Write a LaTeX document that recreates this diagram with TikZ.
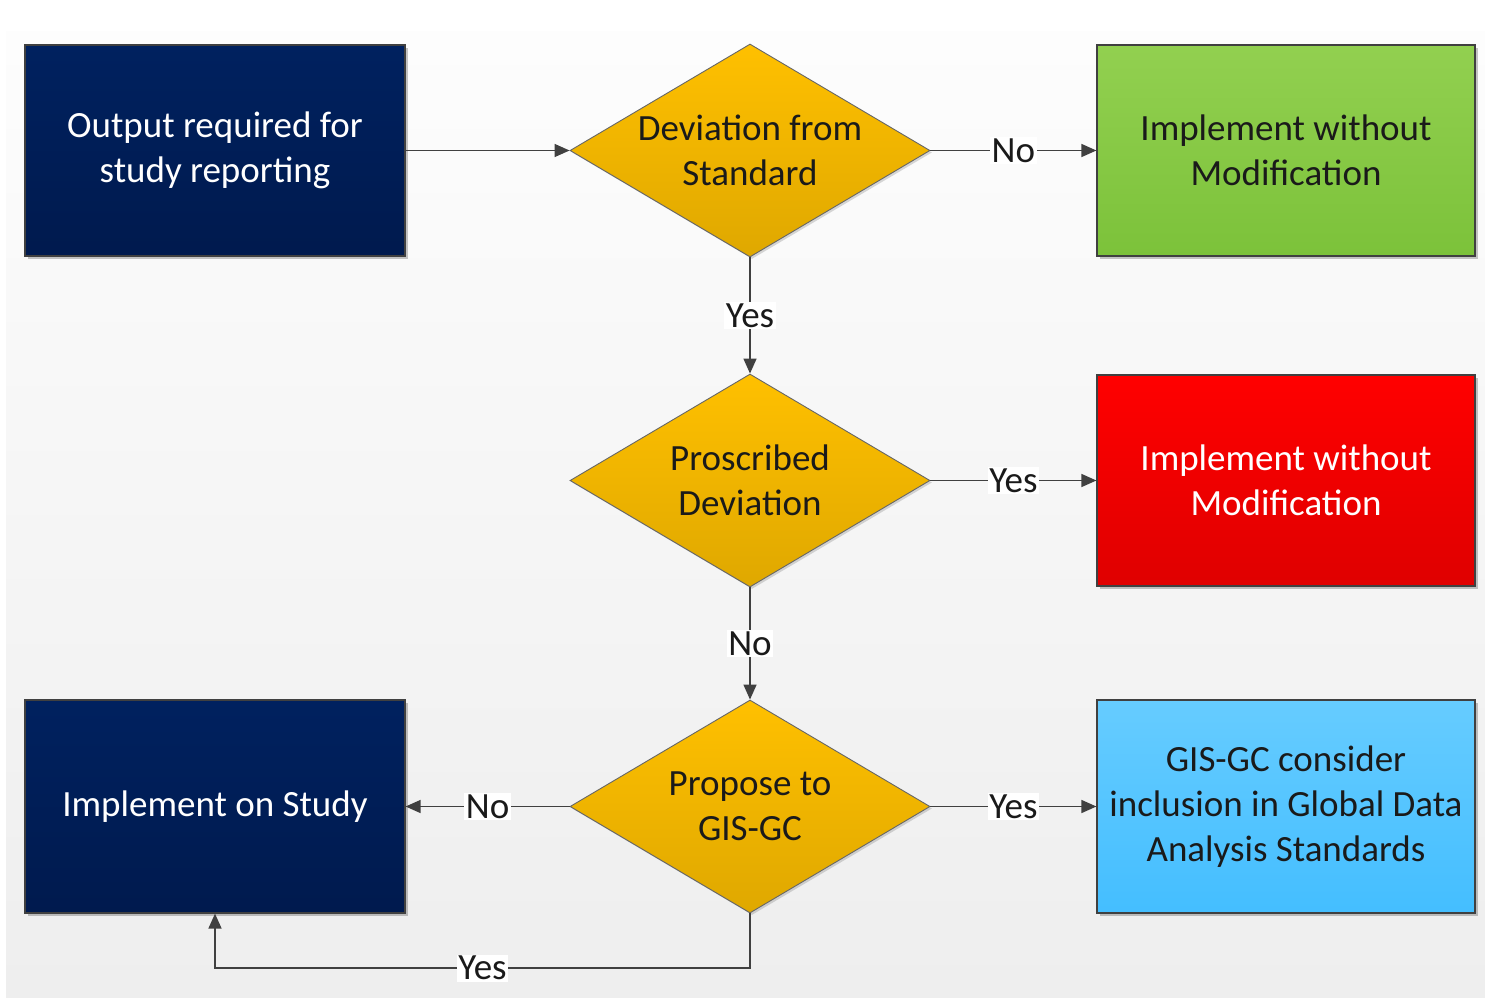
\documentclass[tikz,border=0pt]{standalone}
\usepackage{fontspec}
\setmainfont{Carlito}
\usetikzlibrary{shapes.geometric,arrows.meta,shadows,calc}
\definecolor{bgtop}{HTML}{FDFDFD}
\definecolor{bgbot}{HTML}{EEEEEE}
\definecolor{navytop}{HTML}{00215F}
\definecolor{navybot}{HTML}{001A4E}
\definecolor{greentop}{HTML}{92D050}
\definecolor{greenbot}{HTML}{7CC23A}
\definecolor{redtop}{HTML}{FF0000}
\definecolor{redbot}{HTML}{DF0000}
\definecolor{bluetop}{HTML}{66CCFF}
\definecolor{bluebot}{HTML}{44BEFF}
\definecolor{goldtop}{HTML}{FFC000}
\definecolor{goldbot}{HTML}{DFA800}
\definecolor{edgeclr}{HTML}{404040}
\definecolor{txtdark}{HTML}{1A1A1A}
\begin{document}
\begin{tikzpicture}[x=1pt,y=1pt,
  bigfont/.style={font=\fontsize{37}{45}\selectfont},
  box/.style={rectangle, draw=edgeclr, line width=1.2pt, minimum width=380pt,
    minimum height=211pt, inner sep=0pt, align=center, bigfont,
    drop shadow={shadow xshift=3pt,shadow yshift=-3pt,opacity=0.22,fill=black}},
  dec/.style={diamond, draw=edgeclr!80, line width=0.9pt, minimum width=360pt,
    minimum height=213pt, inner sep=0pt, top color=goldtop, bottom color=goldbot,
    drop shadow={shadow xshift=2pt,shadow yshift=-2pt,opacity=0.15,fill=black}},
  dectext/.style={align=center, bigfont, text=txtdark, inner sep=0pt},
  conn/.style={draw=edgeclr, line width=1.5pt, -{Triangle[length=15pt,width=13pt]}},
  lab/.style={fill=white, inner sep=1.5pt, bigfont, text=txtdark}
]
\useasboundingbox (0,0) rectangle (1485,-998);
\shade[top color=bgtop, bottom color=bgbot] (6,-32) rectangle (1485,-997);

% boxes
\node[box, top color=navytop, bottom color=navybot, text=white] (start) at (215,-150.5)
  {Output required for\\study reporting};
\node[box, top color=greentop, bottom color=greenbot, text=txtdark, minimum width=378pt] (green) at (1286,-150.5)
  {Implement without\\Modification};
\node[box, top color=redtop, bottom color=redbot, text=white, minimum width=378pt] (red) at (1286,-480.5)
  {Implement without\\Modification};
\node[box, top color=navytop, bottom color=navybot, text=white, minimum height=213pt] (impl) at (215,-806.5)
  {Implement on Study};
\node[box, top color=bluetop, bottom color=bluebot, text=txtdark, minimum width=378pt, minimum height=213pt] (blue) at (1286,-806.5)
  {GIS-GC consider\\inclusion in Global Data\\Analysis Standards};

% decisions
\node[dec, label={[dectext]center:Deviation from\\Standard}] (d1) at (750,-150.5) {};
\node[dec, label={[dectext]center:Proscribed\\Deviation}] (d2) at (750,-480.5) {};
\node[dec, label={[dectext]center:Propose to\\GIS-GC}] (d3) at (750,-806.5) {};

% connectors
\draw[conn] (start.east) -- (d1.west);
\draw[conn] (d1.east) -- node[lab] (l1) {No} (green.west);
\draw[conn] (d1.south) -- node[lab] (l2) {Yes} (d2.north);
\draw[conn] (d2.east) -- node[lab] (l3) {Yes} (red.west);
\draw[conn] (d2.south) -- node[lab] (l4) {No} (d3.north);
\draw[conn] (d3.west) -- node[lab] (l5) {No} (impl.east);
\draw[conn] (d3.east) -- node[lab] (l6) {Yes} (blue.west);
\coordinate (turn) at (750,-968);
\draw[conn] (d3.south) -- (turn) -| node[lab, pos=0.25] (l7) {Yes} (impl.south);
\end{tikzpicture}
\end{document}
